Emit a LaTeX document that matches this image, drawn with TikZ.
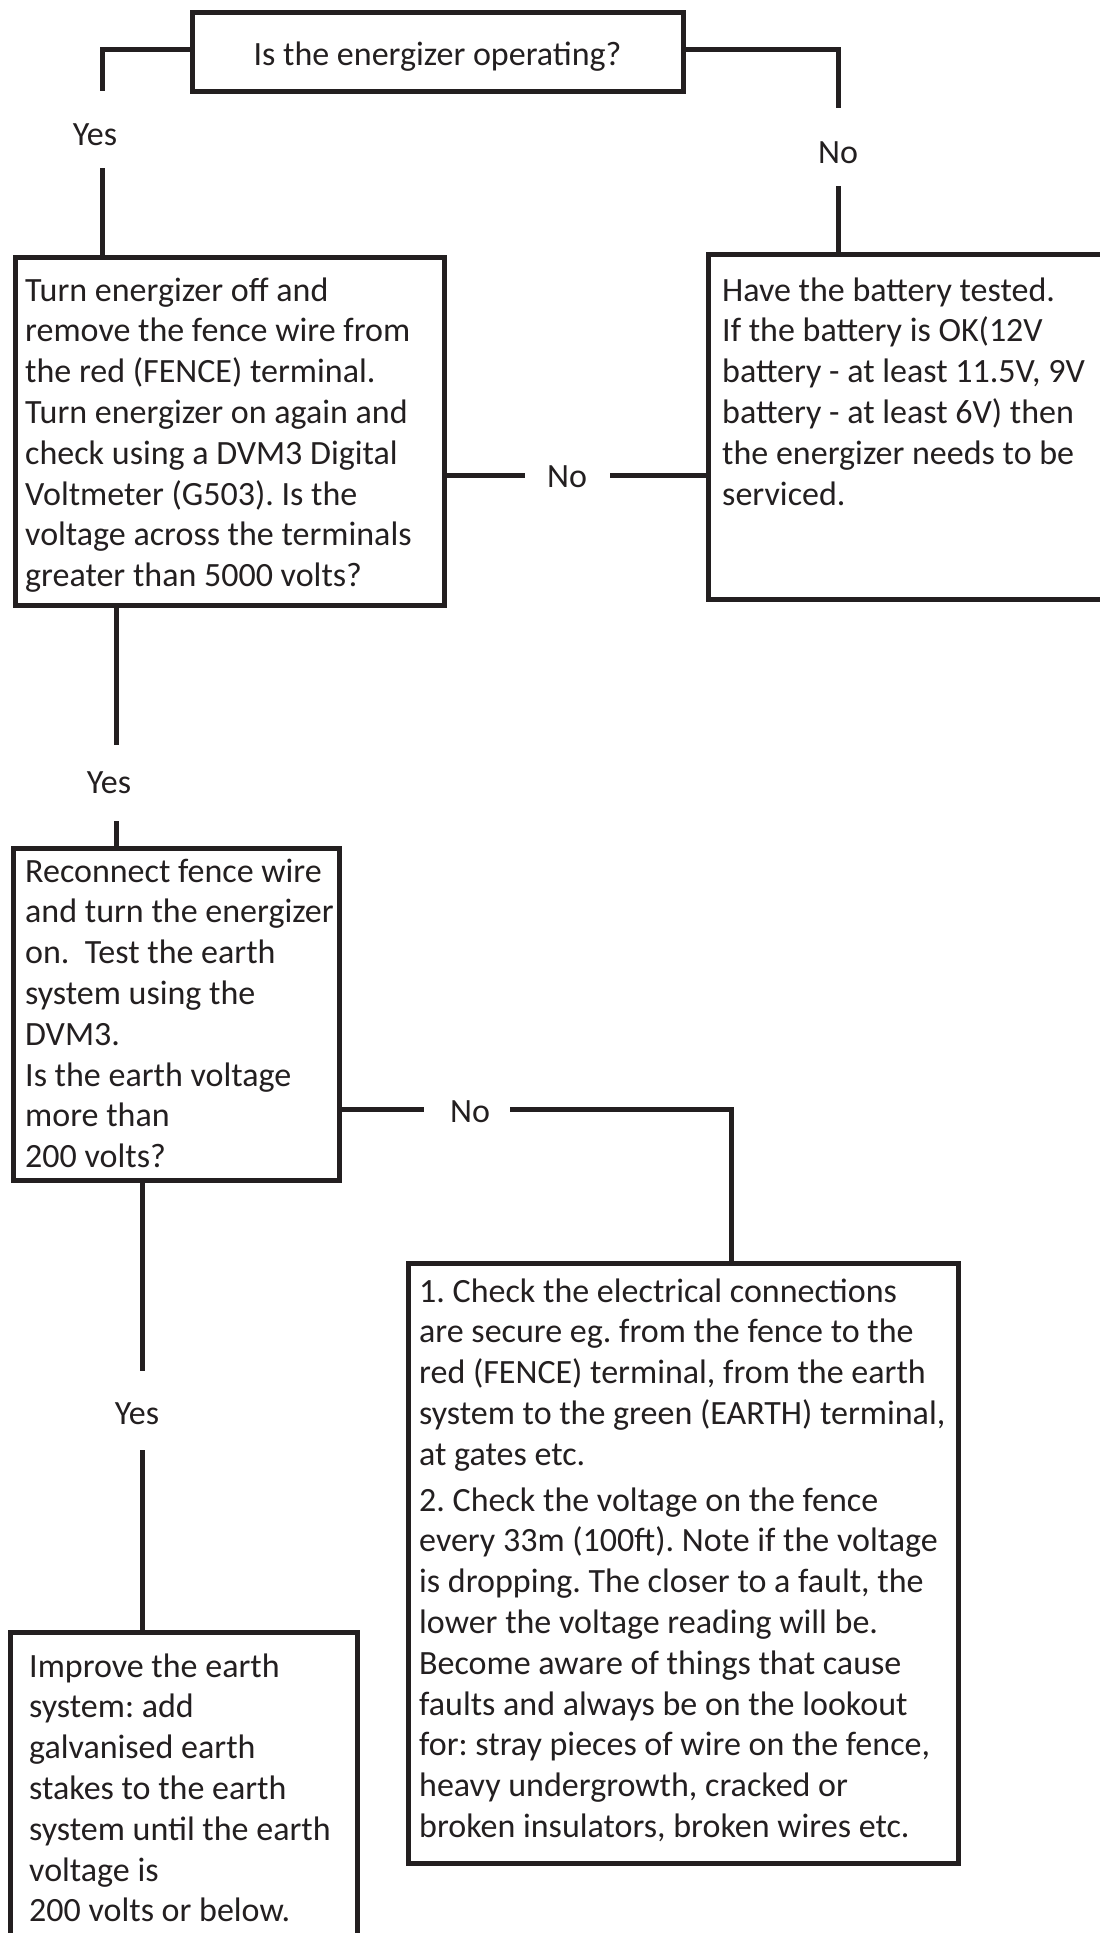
\documentclass[tikz,border=0pt]{standalone}
\usepackage{fontspec}
\setmainfont{Carlito}
\frenchspacing
\definecolor{ink}{HTML}{231F20}
\newcommand\blk[1]{\vtop{\hsize=700pt\parindent=0pt\leftskip=0pt\rightskip=0pt plus 1fil\relax\frenchspacing #1\par}}
\tikzset{
  box/.style={draw=ink, line width=5pt, rectangle, inner sep=0pt},
  conn/.style={draw=ink, line width=5pt},
  txt/.style={inner sep=0pt, text=ink, font=\fontsize{34}{40.8}\selectfont},
  lbl/.style={inner sep=0pt, text=ink, font=\fontsize{34}{40.8}\selectfont, anchor=base},
}
\begin{document}
\begin{tikzpicture}[x=1pt, y=-1pt]
\useasboundingbox[fill=white] (0,0) rectangle (1100,1933);

% boxes
\node[box, minimum width=491pt, minimum height=79pt] (b1) at (437.5,52) {};
\node[box, minimum width=429pt, minimum height=348pt] (b2) at (229.5,431) {};
\node[box, minimum width=420pt, minimum height=345pt] (b3) at (918.5,427) {};
\node[box, minimum width=325.5pt, minimum height=332pt] (b4) at (176.25,1014) {};
\node[box, minimum width=550pt, minimum height=600pt] (b5) at (683,1563) {};
\node[box, minimum width=347pt, minimum height=340pt] (b6) at (184,1802) {};

% texts
\node[lbl] (t1) at (437.5,65) {Is the energizer operating?};
\node[txt, anchor=base west] (t2) at (25,301) {\blk{Turn energizer off and\\remove the fence wire from\\the red (FENCE) terminal.\\Turn energizer on again and\\check using a DVM3 Digital\\Voltmeter (G503). Is the\\voltage across the terminals\\greater than 5000 volts?}};
\node[txt, anchor=base west] (t3) at (722,301) {\blk{Have the battery tested.\\If the battery is OK(12V\\battery - at least 11.5V, 9V\\battery - at least 6V) then\\the energizer needs to be\\serviced.}};
\node[txt, anchor=base west] (t4) at (25,882) {\blk{Reconnect fence wire\\and turn the energizer\\on.\ \ Test the earth\\system using the\\DVM3.\\Is the earth voltage\\more than\\200 volts?}};
\node[txt, anchor=base west] (t5) at (419,1302) {\blk{1. Check the electrical connections\\are secure eg. from the fence to the\\red (FENCE) terminal, from the earth\\system to the green (EARTH) terminal,\\at gates etc.\par\vskip5pt 2. Check the voltage on the fence\\every 33m (100ft). Note if the voltage\\is dropping. The closer to a fault, the\\lower the voltage reading will be.\\Become aware of things that cause\\faults and always be on the lookout\\for: stray pieces of wire on the fence,\\heavy undergrowth, cracked or\\broken insulators, broken wires etc.}};
\node[txt, anchor=base west] (t6) at (29,1677) {\blk{Improve the earth\\system: add\\galvanised earth\\stakes to the earth\\system until the earth\\voltage is\\200 volts or below.}};

% connector end points
\coordinate (c1a) at (102,49);  \coordinate (c1b) at (102,91);  \coordinate (c1c) at (102,168);
\coordinate (c2a) at (838,49);  \coordinate (c2b) at (838,108); \coordinate (c2c) at (838,186);
\coordinate (c3a) at (525,475); \coordinate (c3b) at (610,475);
\coordinate (c4a) at (116,745); \coordinate (c4b) at (116,821);
\coordinate (c5a) at (424,1109); \coordinate (c5b) at (510,1109); \coordinate (c5c) at (731,1109);
\coordinate (c6a) at (142,1371); \coordinate (c6b) at (142,1450);

% connectors
\draw[conn] (b1.west |- c1a) -- (c1a) -- (c1b);
\draw[conn] (c1c) -- (c1c |- b2.north);
\node[lbl] (y1) at (95,145) {Yes};

\draw[conn] (b1.east |- c2a) -- (c2a) -- (c2b);
\draw[conn] (c2c) -- (c2c |- b3.north);
\node[lbl] (n1) at (838,163) {No};

\draw[conn] (b2.east |- c3a) -- (c3a);
\draw[conn] (c3b) -- (b3.west |- c3b);
\node[lbl] (n2) at (567,487) {No};

\draw[conn] (c4a |- b2.south) -- (c4a);
\draw[conn] (c4b) -- (c4b |- b4.north);
\node[lbl] (y2) at (109,793) {Yes};

\draw[conn] (b4.east |- c5a) -- (c5a);
\draw[conn] (c5b) -- (c5c) -- (c5c |- b5.north);
\node[lbl] (n3) at (470,1122) {No};

\draw[conn] (c6a |- b4.south) -- (c6a);
\draw[conn] (c6b) -- (c6b |- b6.north);
\node[lbl] (y3) at (137,1424) {Yes};
\end{tikzpicture}
\end{document}
